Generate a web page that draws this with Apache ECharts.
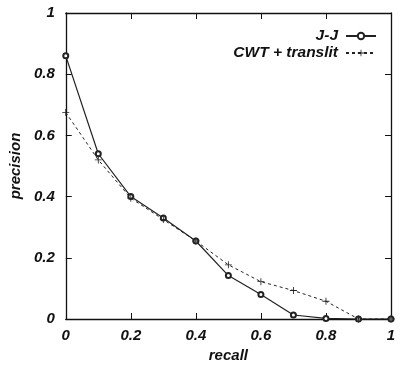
<!DOCTYPE html>
<html>
<head>
<meta charset="utf-8">
<script src="https://cdn.jsdelivr.net/npm/echarts@6/dist/echarts.min.js"></script>
<style>
  html, body { margin: 0; padding: 0; background: #fff; }
  #chart { width: 404px; height: 370px; }
</style>
</head>
<body>
<div id="chart"></div>
<script>
// recall points (x axis)
const recall = [0, 0.1, 0.2, 0.3, 0.4, 0.5, 0.6, 0.7, 0.8, 0.9, 1.0];
// precision values
const jj = [0.86, 0.54, 0.40, 0.33, 0.255, 0.142, 0.08, 0.013, 0.002, 0, 0];
const cwt = [0.675, 0.52, 0.395, 0.325, 0.255, 0.177, 0.122, 0.093, 0.058, 0, 0];
const seriesNames = ['J-J', 'CWT + translit'];

const font = 'Liberation Sans';
const plus = 'path://M4.4,0h1.2v4.4h4.4v1.2h-4.4v4.4h-1.2v-4.4h-4.4v-1.2h4.4z';

const chart = echarts.init(document.getElementById('chart'));

const axisCommon = {
  min: 0,
  max: 1,
  interval: 0.2,
  splitLine: { show: false },
  axisLine: { onZero: false, lineStyle: { color: '#111', width: 1.3 } },
  axisTick: { inside: true, length: 6, lineStyle: { color: '#111' } }
};
const label = {
  fontFamily: font, fontWeight: 'bold', fontStyle: 'italic',
  fontSize: 15, color: '#111'
};

chart.setOption({
  animation: false,
  grid: { left: 62, right: 13, top: 13, bottom: 51 },
  legend: {
    orient: 'vertical',
    right: 22,
    top: 23,
    align: 'right',
    itemWidth: 30,
    itemHeight: 8,
    itemGap: 1,
    textStyle: { fontFamily: font, fontWeight: 'bold', fontStyle: 'italic', fontSize: 15.5, color: '#111', padding: [0, 3, 0, 0] },
    data: seriesNames
  },
  xAxis: [
    Object.assign({}, axisCommon, {
      type: 'value', position: 'bottom',
      name: 'recall', nameLocation: 'middle', nameGap: 24,
      nameTextStyle: label,
      axisLabel: Object.assign({}, label, { margin: 9, formatter: v => String(v) })
    }),
    Object.assign({}, axisCommon, {
      type: 'value', position: 'top', axisLabel: { show: false }
    })
  ],
  yAxis: [
    Object.assign({}, axisCommon, {
      type: 'value', position: 'left',
      name: 'precision', nameLocation: 'middle', nameGap: 42,
      nameTextStyle: label,
      axisLabel: Object.assign({}, label, { margin: 11, formatter: v => String(v) })
    }),
    Object.assign({}, axisCommon, {
      type: 'value', position: 'right', axisLabel: { show: false }
    })
  ],
  series: [
    {
      name: seriesNames[0],
      type: 'line',
      data: recall.map((r, i) => [r, jj[i]]),
      symbol: 'emptyCircle',
      symbolSize: 5,
      lineStyle: { color: '#222', width: 1.2 },
      itemStyle: { color: '#222', borderWidth: 1.2 }
    },
    {
      name: seriesNames[1],
      type: 'line',
      data: recall.map((r, i) => [r, cwt[i]]),
      symbol: plus,
      symbolSize: 7,
      lineStyle: { color: '#222', width: 1, type: [3, 3] },
      itemStyle: { color: '#222' }
    }
  ]
});
</script>
</body>
</html>
